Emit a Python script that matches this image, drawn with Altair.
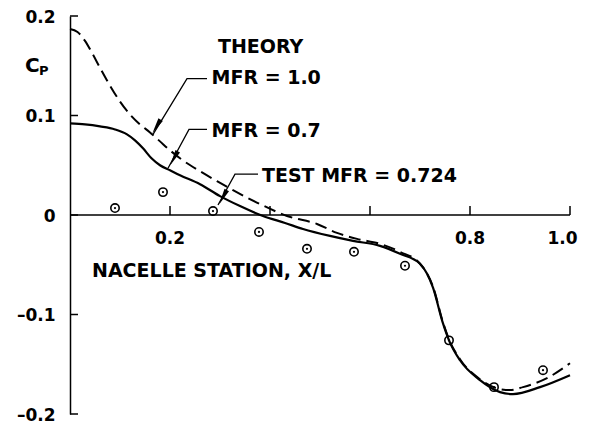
import altair as alt
import pandas as pd

# MFR = 0.7 theory (solid)
solid_x = [0.0, 0.03, 0.06, 0.09, 0.114, 0.13, 0.146, 0.163, 0.18, 0.20, 0.22, 0.26, 0.30, 0.34, 0.386,
           0.43, 0.466, 0.52, 0.566, 0.62, 0.66, 0.70, 0.726, 0.746, 0.758, 0.78, 0.82, 0.86, 0.886, 0.94, 1.0]
solid_cp = [0.092, 0.091, 0.089, 0.086, 0.081, 0.075, 0.067, 0.057, 0.050, 0.045, 0.040, 0.031, 0.019, 0.009, -0.001,
            -0.008, -0.014, -0.021, -0.026, -0.031, -0.039, -0.049, -0.073, -0.109, -0.126, -0.146, -0.166, -0.178, -0.180, -0.173, -0.161]

# MFR = 1.0 theory (dashed)
dashed_x = [0.0, 0.015, 0.03, 0.045, 0.06, 0.08, 0.10, 0.12, 0.14, 0.16, 0.18, 0.20, 0.22, 0.26, 0.294, 0.326, 0.38, 0.434,
            0.494, 0.534, 0.574, 0.62, 0.66, 0.70, 0.726, 0.746, 0.758, 0.78, 0.82, 0.86, 0.88, 0.906, 0.954, 1.0]
dashed_cp = [0.187, 0.184, 0.175, 0.162, 0.148, 0.130, 0.114, 0.101, 0.091, 0.083, 0.074, 0.065, 0.057, 0.044, 0.034, 0.025, 0.011, -0.001,
             -0.009, -0.018, -0.024, -0.029, -0.037, -0.049, -0.072, -0.108, -0.125, -0.145, -0.165, -0.175, -0.176, -0.173, -0.164, -0.149]

# Test MFR = 0.724
test_x = [0.09, 0.186, 0.286, 0.378, 0.474, 0.568, 0.67, 0.758, 0.848, 0.946]
test_cp = [0.007, 0.023, 0.004, -0.017, -0.034, -0.037, -0.051, -0.126, -0.173, -0.156]

# axes
y_ticks = [0.2, 0.1, 0.0, -0.1, -0.2]
x_ticks = [0.2, 0.4, 0.6, 0.8, 1.0]
x_tick_labels = ["0.2", "0.8", "1.0"]
x_tick_label_pos = [0.2, 0.8, 0.985]

# annotations
ann_text = ["THEORY", "MFR = 1.0", "MFR = 0.7", "TEST MFR = 0.724", "NACELLE STATION, X/L"]
ann_x = [0.296, 0.283, 0.283, 0.384, 0.044]
ann_y = [0.169, 0.138, 0.084, 0.039, -0.056]

leader_id = ["a", "a", "a", "b", "b", "b", "c", "c", "c"]
leader_x = [0.274, 0.234, 0.166, 0.274, 0.238, 0.196, 0.376, 0.330, 0.296]
leader_y = [0.137, 0.137, 0.081, 0.086, 0.086, 0.047, 0.041, 0.041, 0.010]
arrow_x = [0.173, 0.208, 0.306]
arrow_y = [0.089, 0.057, 0.018]
arrow_angle = [211, 208, 208]

FONT = "DejaVu Sans"
xs = alt.Scale(domain=[0, 1], nice=False, zero=False)
ys = alt.Scale(domain=[-0.2, 0.2], nice=False, zero=False)
yaxis = alt.Axis(values=y_ticks, ticks=False, tickSize=0, grid=False, domain=True,
                 domainColor="black", domainWidth=1.5, labelFont=FONT, labelFontWeight="bold",
                 labelFontSize=17, labelColor="black", labelPadding=15, labelOffset=1, title=None,
                 labelExpr="datum.value == 0 ? '0' : (datum.value < 0 ? '\u2013' : '') + format(abs(datum.value), '.1f')")


def X(f):
    return alt.X(f, type="quantitative", scale=xs, axis=None)


def Y(f):
    return alt.Y(f, type="quantitative", scale=ys, axis=yaxis)


solid_df = pd.DataFrame({"x": solid_x, "cp": solid_cp})
dashed_df = pd.DataFrame({"x": dashed_x, "cp": dashed_cp})
test_df = pd.DataFrame({"x": test_x, "cp": test_cp})

base_axis = alt.Chart(pd.DataFrame({"x": [0.0], "x2": [1.0], "y": [0.0]})).mark_rule(
    color="black", strokeWidth=1.5).encode(x=X("x"), x2="x2", y=Y("y"))

ytick_df = pd.DataFrame({"x": [0.0] * len(y_ticks), "x2": [0.016] * len(y_ticks), "y": y_ticks})
ytick_layer = alt.Chart(ytick_df).mark_rule(color="black", strokeWidth=1.5).encode(
    x=X("x"), x2="x2", y=Y("y"))

xtick_df = pd.DataFrame({"x": x_ticks, "y": [0.0] * len(x_ticks), "y2": [0.009] * len(x_ticks)})
xtick_layer = alt.Chart(xtick_df).mark_rule(color="black", strokeWidth=1.5).encode(
    x=X("x"), y=Y("y"), y2="y2")

xlab_df = pd.DataFrame({"x": x_tick_label_pos, "y": [-0.0245] * len(x_tick_labels), "t": x_tick_labels})
xlab_layer = alt.Chart(xlab_df).mark_text(font=FONT, fontWeight="bold", fontSize=17, color="black",
                                          align="center", baseline="middle").encode(
    x=X("x"), y=Y("y"), text="t:N")

solid_layer = alt.Chart(solid_df).mark_line(color="black", strokeWidth=2.2, interpolate="monotone").encode(
    x=X("x"), y=Y("cp"))
dashed_layer = alt.Chart(dashed_df).mark_line(color="black", strokeWidth=2, strokeDash=[12, 6],
                                              interpolate="monotone").encode(x=X("x"), y=Y("cp"))

pts_ring = alt.Chart(test_df).mark_point(shape="circle", filled=False, size=70, strokeWidth=1.6,
                                         color="black", opacity=1).encode(x=X("x"), y=Y("cp"))
pts_dot = alt.Chart(test_df).mark_circle(size=5, color="black", opacity=1).encode(x=X("x"), y=Y("cp"))

ann_df = pd.DataFrame({"x": ann_x, "y": ann_y, "t": ann_text})
ann_layer = alt.Chart(ann_df).mark_text(font=FONT, fontWeight="bold", fontSize=19, color="black",
                                        align="left", baseline="middle").encode(
    x=X("x"), y=Y("y"), text="t:N")

cp_df = pd.DataFrame({"x": [-0.09], "y": [0.150], "t": ["C"]})
cp_layer = alt.Chart(cp_df).mark_text(font=FONT, fontWeight="bold", fontSize=20, color="black",
                                      align="left", baseline="middle").encode(x=X("x"), y=Y("y"), text="t:N")
cpsub_df = pd.DataFrame({"x": [-0.062], "y": [0.145], "t": ["P"]})
cpsub_layer = alt.Chart(cpsub_df).mark_text(font=FONT, fontWeight="bold", fontSize=13, color="black",
                                            align="left", baseline="middle").encode(x=X("x"), y=Y("y"), text="t:N")

leader_df = pd.DataFrame({"id": leader_id, "x": leader_x, "y": leader_y, "o": list(range(len(leader_x)))})
leader_layer = alt.Chart(leader_df).mark_line(color="black", strokeWidth=1.3).encode(
    x=X("x"), y=Y("y"), detail="id:N", order="o:Q")

arrow_df = pd.DataFrame({"x": arrow_x, "y": arrow_y, "a": arrow_angle})
arrow_layer = alt.Chart(arrow_df).mark_point(shape="M0,-1L-0.32,1L0.32,1Z", filled=True, size=256,
                                             color="black", opacity=1, strokeWidth=0).encode(
    x=X("x"), y=Y("y"), angle=alt.Angle("a:Q", scale=None))

chart = alt.layer(
    base_axis, ytick_layer, xtick_layer, xlab_layer, dashed_layer, solid_layer, pts_ring, pts_dot,
    leader_layer, arrow_layer, ann_layer, cp_layer, cpsub_layer
).properties(
    width=500, height=398, autosize="none",
    padding={"left": 62, "top": 8, "right": 8, "bottom": 10},
    background="white"
).configure_view(stroke=None)

chart.save("out.html", embed_options={"renderer": "svg", "actions": False})
